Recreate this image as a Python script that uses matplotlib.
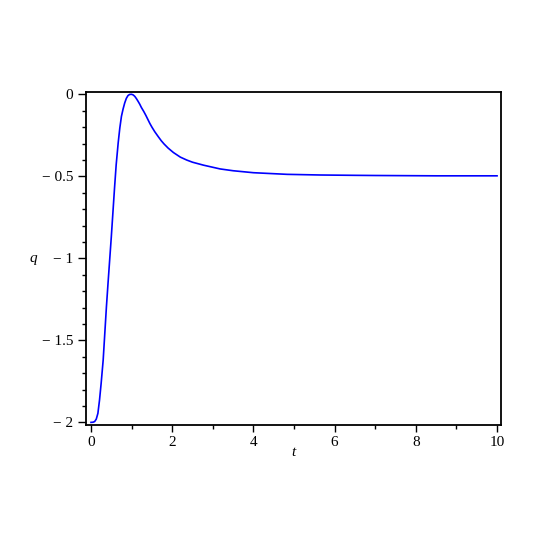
import matplotlib
matplotlib.use("Agg")
import matplotlib.pyplot as plt
from matplotlib.ticker import MultipleLocator, FixedLocator

t_vals = [0.0, 0.05, 0.09, 0.13, 0.17, 0.21, 0.25, 0.30, 0.34, 0.38, 0.42,
          0.46, 0.50, 0.54, 0.58, 0.62, 0.67, 0.71, 0.75, 0.79, 0.83, 0.87,
          0.91, 0.95, 1.0, 1.04, 1.08, 1.12, 1.16, 1.20, 1.24, 1.30, 1.35,
          1.41, 1.45, 1.50, 1.57, 1.65, 1.73, 1.80, 1.90, 2.03, 2.2, 2.36,
          2.5, 2.77, 3.18, 3.5, 4.0, 4.83, 5.65, 6.5, 7.0, 8.5, 10.0]
q_vals = [-2.0, -1.999, -1.995, -1.98, -1.945, -1.864, -1.762, -1.62, -1.457,
          -1.295, -1.15, -1.01, -0.87, -0.72, -0.57, -0.43, -0.295, -0.205,
          -0.134, -0.09, -0.053, -0.025, -0.008, -0.001, 0.0, -0.004, -0.013,
          -0.027, -0.043, -0.06, -0.08, -0.105, -0.128, -0.158, -0.178,
          -0.20, -0.228, -0.256, -0.283, -0.303, -0.328, -0.355, -0.383,
          -0.401, -0.414, -0.432, -0.455, -0.466, -0.478, -0.488, -0.492,
          -0.494, -0.495, -0.497, -0.497]

x_ticks = [0, 2, 4, 6, 8, 10]
x_tick_labels = ["0", "2", "4", "6", "8", "10"]
y_ticks = [0, -0.5, -1, -1.5, -2]
y_tick_labels = ["0", "\u2212 0.5", "\u2212 1", "\u2212 1.5", "\u2212 2"]

plt.rcParams['font.family'] = ['Liberation Serif', 'DejaVu Serif']

fig = plt.figure(figsize=(5.45, 5.45), dpi=100)
ax = fig.add_axes([86/545, 1-425/545, (500.7-86)/545, (425-92)/545])
ax.plot(t_vals, q_vals, color='#0000ff', lw=1.2, solid_joinstyle='round')

ax.set_xlim(-0.123, 10.09)
ax.set_ylim(-2.016, 0.014)

ax.xaxis.set_major_locator(FixedLocator(x_ticks))
ax.set_xticklabels(x_tick_labels)
ax.yaxis.set_major_locator(FixedLocator(y_ticks))
ax.set_yticklabels(y_tick_labels)
ax.xaxis.set_minor_locator(MultipleLocator(1))
ax.yaxis.set_minor_locator(MultipleLocator(0.1))

ax.tick_params(which='major', direction='out', labelsize=11, width=1.0)
ax.tick_params(axis='x', which='major', length=5, pad=3)
ax.tick_params(axis='y', which='major', length=6, pad=3)
ax.tick_params(which='minor', direction='out', length=3, width=1.0)
ax.tick_params(top=False, right=False)

for s in ax.spines.values():
    s.set_linewidth(1.3)
    s.set_color('black')

ax.set_xlabel('t', fontsize=11, fontstyle='italic', labelpad=4)
ax.set_ylabel('q', fontsize=11, fontstyle='italic', rotation=0, labelpad=0)
ax.yaxis.set_label_coords(-0.128, 0.5)
ax.xaxis.set_label_coords((293-86)/(500.7-86), -(453-425)/(425-92))
ax.xaxis.label.set_va('center')
ax.yaxis.label.set_va('center')

fig.savefig('out.png', dpi=100)
